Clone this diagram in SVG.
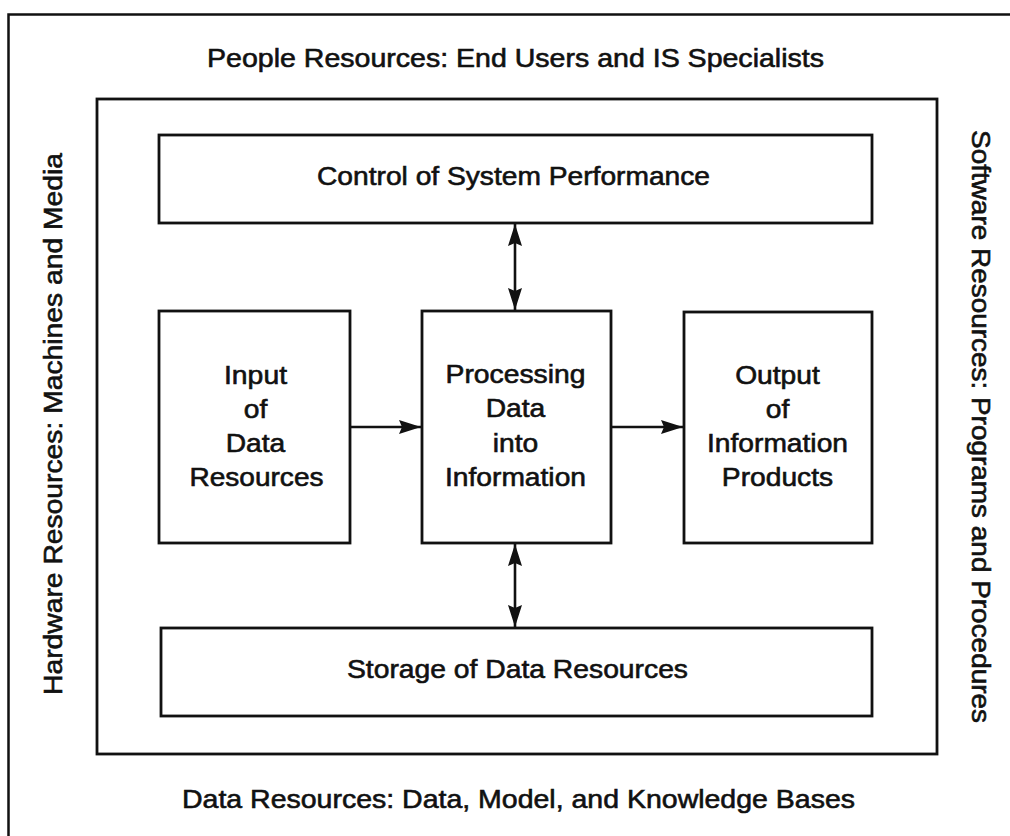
<svg xmlns="http://www.w3.org/2000/svg" width="1010" height="836" viewBox="0 0 1010 836">
  <style>
    .frame { fill: none; stroke: #111; stroke-width: 2.5; }
    .box { fill: #fff; stroke: #111; stroke-width: 2.8; }
    .link { fill: none; stroke: #111; stroke-width: 2.6; }
    text { font-family: "Liberation Sans", Arial, sans-serif; font-size: 26px; fill: #111; stroke: #111; stroke-width: 0.6; text-anchor: middle; }
  </style>
  <defs>
    <marker id="head" viewBox="0 0 22 14" refX="22" refY="7" markerWidth="22" markerHeight="14" markerUnits="userSpaceOnUse" orient="auto-start-reverse">
      <path d="M0,0 L22,7 L0,14 L3,7 z" fill="#111"/>
    </marker>
  </defs>

  <rect width="1010" height="836" fill="#fff"/>

  <!-- outer frame (open on right and bottom) -->
  <path class="frame" d="M8.5,836 L8.5,14.5 L1010,14.5"/>

  <!-- resource labels around the system -->
  <g id="people">
    <text x="515.5" y="67" textLength="617" lengthAdjust="spacingAndGlyphs">People Resources: End Users and IS Specialists</text>
  </g>
  <g id="data-resources">
    <text x="518.5" y="808" textLength="673" lengthAdjust="spacingAndGlyphs">Data Resources: Data, Model, and Knowledge Bases</text>
  </g>
  <g id="hardware">
    <text transform="translate(62,424) rotate(-90)" x="0" y="0" textLength="542" lengthAdjust="spacingAndGlyphs">Hardware Resources: Machines and Media</text>
  </g>
  <g id="software">
    <text transform="translate(972,426.5) rotate(90)" x="0" y="0" textLength="593" lengthAdjust="spacingAndGlyphs">Software Resources: Programs and Procedures</text>
  </g>

  <!-- system boundary -->
  <g id="system">
    <rect class="box" x="97" y="99" width="840" height="655"/>
  </g>

  <g id="control">
    <rect class="box" x="159" y="135" width="713" height="88"/>
    <text x="513.5" y="185" textLength="393" lengthAdjust="spacingAndGlyphs">Control of System Performance</text>
  </g>

  <g id="input">
    <rect class="box" x="159" y="311" width="191" height="232"/>
    <text x="255.5" y="384" textLength="63" lengthAdjust="spacingAndGlyphs">Input</text>
    <text x="255.5" y="418" textLength="23.5" lengthAdjust="spacingAndGlyphs">of</text>
    <text x="255.5" y="452" textLength="59.6" lengthAdjust="spacingAndGlyphs">Data</text>
    <text x="256.5" y="486" textLength="134" lengthAdjust="spacingAndGlyphs">Resources</text>
  </g>

  <g id="processing">
    <rect class="box" x="422" y="311" width="189" height="232"/>
    <text x="515.5" y="383" textLength="140" lengthAdjust="spacingAndGlyphs">Processing</text>
    <text x="515.5" y="417" textLength="59.6" lengthAdjust="spacingAndGlyphs">Data</text>
    <text x="515.5" y="452" textLength="45.5" lengthAdjust="spacingAndGlyphs">into</text>
    <text x="515.5" y="486" textLength="141" lengthAdjust="spacingAndGlyphs">Information</text>
  </g>

  <g id="output">
    <rect class="box" x="684" y="312" width="188" height="231"/>
    <text x="777.5" y="384" textLength="84.7" lengthAdjust="spacingAndGlyphs">Output</text>
    <text x="777.5" y="418" textLength="23.5" lengthAdjust="spacingAndGlyphs">of</text>
    <text x="777.5" y="452" textLength="141" lengthAdjust="spacingAndGlyphs">Information</text>
    <text x="777.5" y="486" textLength="111.3" lengthAdjust="spacingAndGlyphs">Products</text>
  </g>

  <g id="storage">
    <rect class="box" x="161" y="628" width="711" height="88"/>
    <text x="517.5" y="678" textLength="341" lengthAdjust="spacingAndGlyphs">Storage of Data Resources</text>
  </g>

  <!-- connectors -->
  <g id="connectors">
    <line class="link" x1="515" y1="224" x2="515" y2="310" marker-start="url(#head)" marker-end="url(#head)"/>
    <line class="link" x1="515" y1="544" x2="515" y2="627" marker-start="url(#head)" marker-end="url(#head)"/>
    <line class="link" x1="351" y1="427" x2="421" y2="427" marker-end="url(#head)"/>
    <line class="link" x1="612" y1="427" x2="683" y2="427" marker-end="url(#head)"/>
  </g>
</svg>
